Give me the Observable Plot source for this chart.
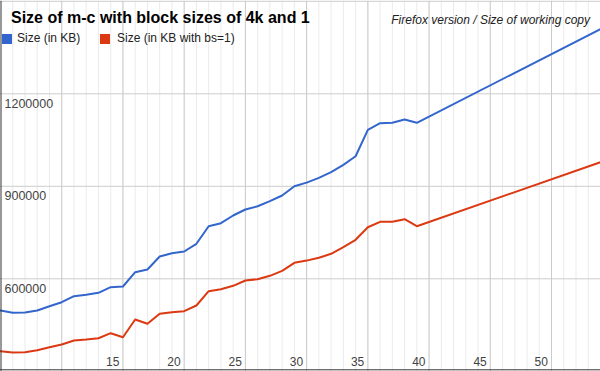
<!DOCTYPE html>
<html>
<head>
<meta charset="utf-8">
<script src="https://cdn.jsdelivr.net/npm/d3@7"></script>
<script src="https://cdn.jsdelivr.net/npm/@observablehq/plot@0.6"></script>
<style>
  body { margin: 0; background: #fff; }
  #wrap { position: relative; width: 600px; height: 371px; font-family: Arial, "Liberation Sans", sans-serif; }
  #wrap svg { position: absolute; left: 0; top: 0; }
  .title { position: absolute; left: 11px; top: 10px; font-size: 16px; line-height: 16px; font-weight: bold; color: #000; white-space: nowrap; }
  .sub { position: absolute; right: 10px; top: 14px; font-size: 12px; line-height: 12px; font-style: italic; color: #222; white-space: nowrap; }
  .leg { position: absolute; top: 32px; font-size: 12px; line-height: 12px; color: #222; white-space: nowrap; }
  .sw { position: absolute; top: 34px; width: 10px; height: 10px; }
</style>
</head>
<body>
<div id="wrap"></div>
<script>
const versions = [6,7,8,9,10,11,12,13,14,15,16,17,18,19,20,21,22,23,24,25,26,27,28,29,30,31,32,33,34,35,36,37,38,39,40,55];
const sizeKB = [497200,489700,490700,497200,511100,524100,543600,548100,554600,572800,575000,621400,630200,672300,683000,688500,713500,770600,780300,805300,824700,835400,851700,870200,900300,912000,927500,945700,969700,997600,1083200,1104600,1105900,1116600,1105900,1410000];
const sizeBs1 = [365200,361000,362000,368400,378200,386900,399900,403100,407300,423600,410600,468000,454000,486500,491700,494900,513400,559800,566300,577300,594500,598700,609700,625900,651900,659000,668100,681100,702500,726500,767300,784800,784800,793300,770600,978000];
const seriesNames = ["Size (in KB)", "Size (in KB with bs=1)"];
const seriesColors = ["#3366cc", "#dc3912"];
const xTickLabels = [15,20,25,30,35,40,45,50];
const yTickLabels = [600000,900000,1200000];
const yGrid = [600000,900000,1200000,1500000];
const xMajorGrid = [11,16,21,26,31,36,41,46,51];
const xMinorGrid = d3.range(7,55);
const xDomain = [6,55];
const yDomain = [300000,1500000];
const titleText = "Size of m-c with block sizes of 4k and 1";
const subtitleText = "Firefox version / Size of working copy";

const rows = [];
versions.forEach((v,i) => {
  rows.push({version: v, value: sizeKB[i], series: seriesNames[0]});
});
versions.forEach((v,i) => {
  rows.push({version: v, value: sizeBs1[i], series: seriesNames[1]});
});

const chart = Plot.plot({
  width: 600,
  height: 371,
  marginLeft: 0,
  marginRight: 0,
  marginTop: 0.8,
  marginBottom: 0.2,
  style: {fontFamily: 'Arial, "Liberation Sans", sans-serif', background: "transparent", overflow: "visible"},
  x: {domain: xDomain, axis: null},
  y: {domain: yDomain, axis: null},
  color: {domain: seriesNames, range: seriesColors},
  marks: [
    Plot.ruleX(xMinorGrid, {x: d => d, stroke: "#ebebeb", strokeWidth: 1}),
    Plot.ruleX(xMajorGrid, {x: d => d, stroke: "#cccccc", strokeWidth: 1}),
    Plot.ruleY(yGrid, {y: d => d, stroke: "#cccccc", strokeWidth: 1}),
    Plot.text(yTickLabels, {y: d => d, text: d => String(d), frameAnchor: "left", textAnchor: "start", lineAnchor: "bottom", dx: 4, dy: 14, fontSize: 12.5, fill: "#444"}),
    Plot.text(xTickLabels, {x: d => d, text: d => String(d), frameAnchor: "bottom", textAnchor: "middle", lineAnchor: "bottom", dx: 2, dy: -5.8, fontSize: 12, fill: "#444"}),
    Plot.line(rows, {x: "version", y: "value", stroke: "series", z: "series", strokeWidth: 2, strokeLinejoin: "round"}),
    Plot.ruleX([xDomain[0]], {x: d => d, stroke: "#333", strokeWidth: 1, dx: 0.5}),
    Plot.ruleY([yDomain[0]], {y: d => d, stroke: "#333", strokeWidth: 1, dy: -1.5})
  ]
});

const wrap = document.getElementById("wrap");
wrap.appendChild(chart);

const t = document.createElement("div");
t.className = "title"; t.textContent = titleText; wrap.appendChild(t);
const s = document.createElement("div");
s.className = "sub"; s.textContent = subtitleText; wrap.appendChild(s);

const legPos = [{sw: 2, tx: 17}, {sw: 100, tx: 117}];
seriesNames.forEach((n, i) => {
  const sw = document.createElement("div");
  sw.className = "sw"; sw.style.left = legPos[i].sw + "px"; sw.style.background = seriesColors[i];
  wrap.appendChild(sw);
  const lt = document.createElement("div");
  lt.className = "leg"; lt.style.left = legPos[i].tx + "px"; lt.textContent = n;
  wrap.appendChild(lt);
});
</script>
</body>
</html>
